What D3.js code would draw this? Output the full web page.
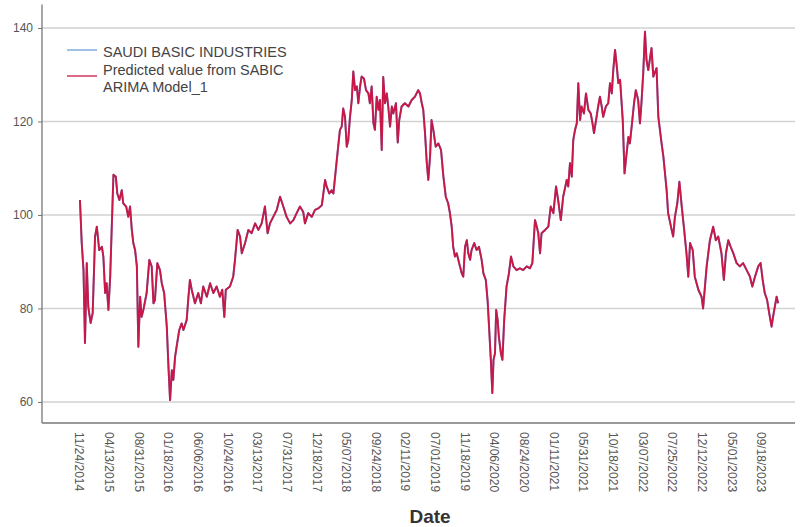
<!DOCTYPE html>
<html>
<head>
<meta charset="utf-8">
<script src="https://cdn.jsdelivr.net/npm/d3@7"></script>
<style>
  html, body { margin: 0; padding: 0; background: #fff; }
  svg { display: block; font-family: "Liberation Sans", Arial, sans-serif; }
</style>
</head>
<body>
<svg id="chart" width="805" height="527"></svg>
<script>
// Observation number (trading days from the first date) and closing values
const obsIndex = [3,9,15,20,26,31,39,46,54,60,68,77,82,88,93,99,105,110,116,124,129,136,144,149,159,166,172,178,183,189,195,200,206,211,217,228,237,245,251,256,264,273,279,287,296,301,307,313,318,324,329,338,346,352,363,369,374,380,391,402,411,419,431,442,453,464,475,483,490,495,509,520,526,535,543,549,560,571,582,594,605,616,627,636,644,655,667,678,689,700,712,723,734,745,756,762,773,785,796,807,819,830,835,844,852,858,867,874,880,886,891,897,903,908,914,920,925,931,937,942,948,953,961,968,976,981,987,993,998,1004,1010,1015,1021,1026,1032,1038,1043,1049,1055,1060,1069,1075,1080,1088,1099,1111,1122,1133,1144,1150,1156,1161,1167,1173,1178,1184,1189,1195,1203,1212,1221,1229,1237,1245,1251,1257,1262,1268,1274,1282,1291,1296,1302,1308,1313,1319,1324,1333,1341,1349,1358,1364,1372,1378,1383,1389,1394,1398,1403,1407,1412,1416,1423,1428,1434,1442,1450,1457,1465,1476,1487,1498,1510,1521,1529,1538,1544,1549,1555,1560,1572,1583,1591,1600,1609,1616,1625,1633,1645,1650,1656,1662,1667,1673,1679,1684,1690,1695,1703,1710,1718,1726,1732,1737,1744,1751,1757,1763,1768,1777,1785,1791,1797,1802,1808,1814,1819,1825,1834,1840,1847,1853,1858,1864,1872,1878,1886,1892,1897,1903,1909,1914,1920,1931,1937,1948,1954,1965,1971,1982,1987,1999,2004,2010,2018,2025,2033,2040,2049,2055,2061,2070,2077,2089,2100,2105,2117,2128,2139,2148,2156,2167,2175,2182,2190,2198,2207,2218,2229,2240,2252,2263,2271,2280,2291,2299,2306,2313,2321,2328,2336,2341,2347,2353,2358];

const closeValues = [103.2,94,88.2,72.6,89.7,80.4,76.9,79,95.4,97.5,92.5,93.2,91.1,83.3,85.4,79.7,86.8,96.8,108.6,108.2,104.6,103.2,105.3,102.5,101.8,99.6,101.8,96.8,94,92.5,89,71.8,82.5,78.2,79.7,83.3,90.4,89,81.1,81.8,89.7,88.2,85.4,83.3,76.1,68.3,60.4,66.8,64.7,69.7,71.8,75.4,76.8,75.4,77.5,82.5,86.1,84,81.1,83.3,81.1,84.7,82.5,85.4,83.3,84.7,82.5,84,78.2,84,84.7,86.8,90.4,96.8,95.4,91.8,94,96.8,96.1,98.2,96.8,98.2,101.8,96.1,98.2,99.6,101.1,103.9,101.8,99.6,98.2,98.9,100.4,101.8,100.7,98.2,100.4,99.6,101.1,101.4,102.1,107.5,106.1,104.6,105.3,104.6,110.3,114.6,118.2,118.9,122.8,121,114.6,116,121,124.6,130.7,126.7,127.5,123.9,127.5,129.6,129.2,126.7,126,123.9,127.5,119.6,118.2,125.3,122.5,124.6,113.9,129.5,123.9,126,123.2,118.9,123.2,121.7,123.9,115.5,120.3,123.2,123.9,123.2,124.6,125.3,126.7,126,123.9,122.5,117.5,111.1,107.5,112.5,120.3,118.2,114.6,115.3,113.9,108.2,103.9,102.5,100.4,97.5,93.2,91.1,91.8,89.7,87.5,86.8,93.2,94.6,91.8,90.4,92.5,94,92.5,93.2,90.4,87.5,86.1,81.8,76.1,69,61.9,69,70.4,79.7,77.5,74,70.4,69,77.5,84.7,87.5,91.1,89,88.2,88.6,88.2,89,88.6,89.7,98.9,97.5,96.1,91.8,96.1,96.8,97.5,101.8,100.4,106.1,103.2,98.9,103.9,107.5,106.1,111.1,108.2,116,118.2,119.6,128.2,120.3,123.2,121.7,126,122.5,121.7,119.6,117.5,120.3,123.2,125.3,123.2,121,123.2,123.9,128.2,126,131,135.3,131.7,128.2,128.9,120.3,108.9,113.2,116.7,115.3,118.9,123.9,126.7,124.6,119.6,123.9,130.3,139.2,133.2,131,135.7,129.6,131.4,121,115.3,112.5,105.3,100.4,96.8,95.4,99.6,102.5,107.1,101.8,97.5,91.8,86.8,94,92.5,86.8,84,82.5,80,89,94.6,97.5,94.6,95.4,91.8,86.1,91.8,94.6,93.2,91.8,89.7,89,89.7,88.2,86.8,84.7,86.8,89,89.7,86.1,83.3,81.8,79,76.1,78.2,80.4,82.5,81.1];

// Date labels shown every 100 observations
const tickLabels = ["11/24/2014","04/13/2015","08/31/2015","01/18/2016","06/06/2016","10/24/2016","03/13/2017","07/31/2017","12/18/2017","05/07/2018","09/24/2018","02/11/2019","07/01/2019","11/18/2019","04/06/2020","08/24/2020","01/11/2021","05/31/2021","10/18/2021","03/07/2022","07/25/2022","12/12/2022","05/01/2023","09/18/2023"];
const tickObs = tickLabels.map((d, i) => i * 100);

const yTicks = [60, 80, 100, 120, 140];

const seriesNames = ["SAUDI BASIC INDUSTRIES", "Predicted value from SABIC", "ARIMA Model_1"];

const data = obsIndex.map((o, i) => ({ obs: o, value: closeValues[i] }));

const svg = d3.select("#chart");

const plot = { left: 42, right: 795, top: 4.6, bottom: 423 };

const x = d3.scaleLinear().domain([-125, 2415]).range([plot.left, plot.right]);
const y = d3.scaleLinear().domain([55.5, 145]).range([plot.bottom, plot.top]);

// horizontal gridlines
svg.append("g")
  .selectAll("line")
  .data(yTicks)
  .join("line")
  .attr("x1", plot.left).attr("x2", plot.right)
  .attr("y1", d => y(d)).attr("y2", d => y(d))
  .attr("stroke", "#d2d2d2")
  .attr("stroke-width", 1.5);

// y axis
const yAxis = svg.append("g")
  .attr("transform", `translate(${plot.left},0)`)
  .call(d3.axisLeft(y).tickValues(yTicks).tickSize(4).tickPadding(5).tickFormat(d3.format("d")));
yAxis.select(".domain").attr("stroke", "#777").attr("stroke-width", 1.3).attr("d", `M-0,${plot.top}V${plot.bottom}`);
yAxis.selectAll(".tick line").attr("stroke", "#777");
yAxis.selectAll(".tick text").attr("fill", "#555").style("font-size", "12px").style("font-family", "'Liberation Sans', Arial, sans-serif");

// x axis with rotated date labels
const xAxis = svg.append("g")
  .attr("transform", `translate(0,${plot.bottom})`)
  .call(d3.axisBottom(x).tickValues(tickObs).tickSize(0).tickFormat((d, i) => tickLabels[i]));
xAxis.select(".domain").attr("stroke", "#777").attr("stroke-width", 1.3).attr("d", `M${plot.left},0H${plot.right}`);
xAxis.selectAll(".tick text")
  .attr("fill", "#555")
  .style("font-size", "12px")
  .style("font-family", "'Liberation Sans', Arial, sans-serif")
  .attr("transform", "rotate(90)")
  .attr("text-anchor", "start")
  .attr("x", 9)
  .attr("y", 0)
  .attr("dy", "0.35em");

// axis title
svg.append("text")
  .attr("x", 430).attr("y", 523)
  .attr("text-anchor", "middle")
  .attr("fill", "#333")
  .style("font-size", "19px")
  .style("font-weight", "bold")
  .text("Date");

const line = d3.line().x(d => x(d.obs)).y(d => y(d.value));

// observed series, then the model prediction drawn over it
svg.append("path")
  .datum(data)
  .attr("fill", "none")
  .attr("stroke", "#6f9fd8")
  .attr("stroke-width", 2)
  .attr("stroke-linejoin", "round")
  .attr("d", line);

svg.append("path")
  .datum(data)
  .attr("fill", "none")
  .attr("stroke", "#c81848")
  .attr("stroke-width", 1.9)
  .attr("stroke-linejoin", "round")
  .attr("d", line);

// legend
const legend = svg.append("g");
legend.append("line").attr("x1", 67).attr("x2", 97).attr("y1", 50).attr("y2", 50)
  .attr("stroke", "#6f9fd8").attr("stroke-width", 1.3);
legend.append("line").attr("x1", 67).attr("x2", 97).attr("y1", 76).attr("y2", 76)
  .attr("stroke", "#c81848").attr("stroke-width", 1.3);
legend.selectAll("text")
  .data(seriesNames)
  .join("text")
  .attr("x", 103)
  .attr("y", (d, i) => [57, 75, 92][i])
  .attr("fill", "#444")
  .style("font-size", "14.5px")
  .text(d => d);
</script>
</body>
</html>
